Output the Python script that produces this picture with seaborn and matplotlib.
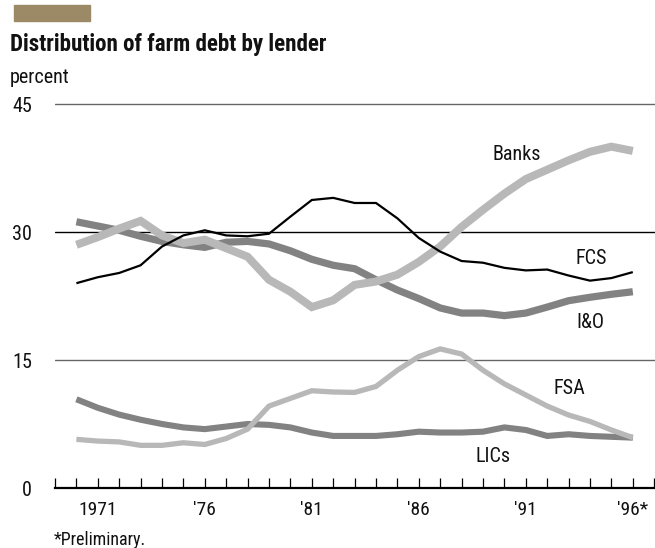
import matplotlib
matplotlib.use("Agg")
import matplotlib.pyplot as plt
from matplotlib import font_manager
import seaborn as sns
import pandas as pd

years = list(range(1970, 1997))
banks = [28.5, 29.4, 30.4, 31.3, 29.6, 28.7, 29.1, 28.1, 27.1, 24.4, 23.0, 21.2, 22.0, 23.8,
         24.2, 25.0, 26.5, 28.3, 30.6, 32.6, 34.5, 36.2, 37.3, 38.4, 39.4, 40.0, 39.5]
fcs = [24.0, 24.7, 25.2, 26.1, 28.3, 29.6, 30.2, 29.6, 29.5, 29.8, 31.8, 33.75, 34.0, 33.4,
       33.4, 31.6, 29.3, 27.7, 26.6, 26.4, 25.8, 25.5, 25.6, 24.9, 24.3, 24.6, 25.3]
io = [31.2, 30.7, 30.2, 29.5, 28.9, 28.5, 28.2, 28.8, 28.9, 28.6, 27.8, 26.8, 26.1, 25.7,
      24.4, 23.2, 22.2, 21.1, 20.5, 20.5, 20.2, 20.5, 21.2, 21.95, 22.35, 22.7, 23.0]
fsa = [5.7, 5.5, 5.4, 5.0, 5.0, 5.3, 5.1, 5.8, 6.9, 9.6, 10.5, 11.4, 11.25, 11.2,
       11.9, 13.8, 15.4, 16.3, 15.7, 13.8, 12.2, 10.9, 9.6, 8.55, 7.8, 6.8, 5.9]
lics = [10.4, 9.4, 8.6, 8.0, 7.5, 7.1, 6.9, 7.2, 7.5, 7.4, 7.1, 6.5, 6.1, 6.1,
        6.1, 6.3, 6.6, 6.5, 6.5, 6.6, 7.1, 6.8, 6.1, 6.3, 6.1, 6.0, 5.9]

series_names = ["Banks", "FCS", "I&O", "FSA", "LICs"]
y_ticks = [0, 15, 30, 45]
x_label_years = [1971, 1976, 1981, 1986, 1991, 1996]
x_label_text = ["1971", "'76", "'81", "'86", "'91", "'96*"]

df = pd.DataFrame({"year": years * 5,
                   "value": banks + fcs + io + fsa + lics,
                   "lender": sum([[n] * len(years) for n in series_names], [])})

sns.set_style("white")
avail = {f.name for f in font_manager.fontManager.ttflist}
fam = "Liberation Sans"
for cand in ["Liberation Sans Narrow", "Roboto Condensed", "Roboto"]:
    if cand in avail:
        fam = cand
        break
plt.rcParams["font.family"] = [fam, "DejaVu Sans"]

fig = plt.figure(figsize=(6.55, 5.48), dpi=100)
W, H = 655, 548
x0, x1 = 55, 655
y_bot, y_top = 488, 96
ax = fig.add_axes([x0 / W, 1 - y_bot / H, (x1 - x0) / W, (y_bot - y_top) / H])

LIGHT = "#b8b8b8"
DARK = "#828282"
styles = {"Banks": (LIGHT, 5.8), "FCS": ("#000000", 1.6), "I&O": (DARK, 5.2),
          "FSA": (LIGHT, 3.8), "LICs": (DARK, 4.4)}

# gridlines
for v in y_ticks[1:]:
    ax.axhline(v, color="#000000" if v == 30 else "#666666", lw=1.0, zorder=1)

for name in ["LICs", "FSA", "I&O", "Banks", "FCS"]:
    c, lw = styles[name]
    sns.lineplot(data=df[df.lender == name], x="year", y="value", ax=ax,
                 color=c, lw=lw, legend=False, zorder=3,
                 solid_joinstyle="miter", solid_capstyle="butt")

ax.set_xlim(1969, 1969 + 600 / 21.4)
ax.set_ylim(0, (y_bot - y_top) / (384 / 45))
for s in ["top", "right", "left"]:
    ax.spines[s].set_visible(False)
ax.spines["bottom"].set_linewidth(1.6)
ax.spines["bottom"].set_color("black")

all_years = list(range(1969, 1998))
ax.set_xticks(all_years)
ax.set_xticklabels([x_label_text[x_label_years.index(y)] if y in x_label_years else ""
                    for y in all_years])
ax.tick_params(axis="x", bottom=True, direction="in", length=7.5, width=0.9, color="black",
               pad=9.5, labelsize=14, labelcolor="#111111")
ax.set_yticks(y_ticks)
ax.set_yticklabels([str(v) for v in y_ticks])
ax.tick_params(axis="y", left=False, length=0, pad=16.5, labelsize=14.5, labelcolor="#111111")
ax.set_xlabel("")
ax.set_ylabel("")

def px(x, y):
    return x / W, 1 - y / H

label_pos = {"Banks": (517, 154), "FCS": (591, 259), "I&O": (590, 323),
             "FSA": (569, 389), "LICs": (493, 456)}
for name, (lx, ly) in label_pos.items():
    fig.text(*px(lx, ly), name, ha="center", va="center", fontsize=14.5, color="#111111")

# header
fig.patches.append(plt.Rectangle(px(14, 20.5), 76 / W, 15.5 / H, transform=fig.transFigure,
                                 color="#9c8a66", zorder=5))
fig.text(*px(10, 51), "Distribution of farm debt by lender", ha="left", va="baseline",
         fontsize=16.6, fontweight="bold", color="#111111")
fig.text(*px(10, 83), "percent", ha="left", va="baseline", fontsize=14.5, color="#111111")
fig.text(*px(54, 545), "*Preliminary.", ha="left", va="baseline", fontsize=13, color="#111111")

fig.savefig("out.png", dpi=100)
